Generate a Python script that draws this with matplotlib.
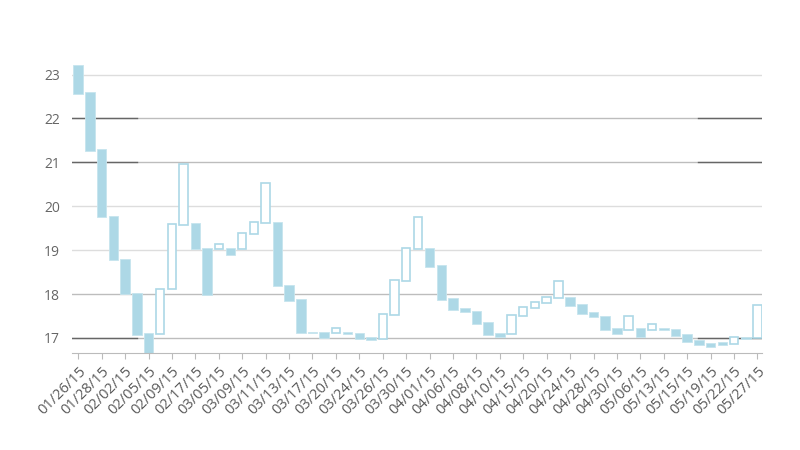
import matplotlib.pyplot as plt
import numpy as np

# open / close values (59 sessions)
open_vals = [23.22, 22.60, 21.30, 19.79, 18.81, 18.03, 17.11, 17.08, 18.11, 19.58,
             19.62, 19.06, 19.03, 19.06, 19.03, 19.38, 19.61, 19.64, 18.21, 17.89,
             17.14, 17.13, 17.11, 17.13, 17.12, 17.02, 16.98, 17.52, 18.29, 19.03,
             19.06, 18.66, 17.91, 17.68, 17.62, 17.37, 17.11, 17.08, 17.50, 17.68,
             17.80, 17.90, 17.94, 17.77, 17.59, 17.51, 17.23, 17.19, 17.22, 17.18,
             17.23, 17.21, 17.10, 16.96, 16.89, 16.90, 16.86, 17.02, 16.99]
close_vals = [22.56, 21.27, 19.75, 18.77, 18.00, 17.07, 16.60, 18.12, 19.60, 20.97,
              19.02, 17.98, 19.13, 18.88, 19.40, 19.64, 20.52, 18.18, 17.85, 17.11,
              17.11, 16.99, 17.22, 17.08, 16.98, 16.95, 17.54, 18.31, 19.04, 19.75,
              18.62, 17.87, 17.63, 17.59, 17.33, 17.07, 17.03, 17.52, 17.70, 17.83,
              17.94, 18.29, 17.72, 17.55, 17.47, 17.18, 17.08, 17.51, 17.02, 17.32,
              17.18, 17.05, 16.92, 16.84, 16.80, 16.84, 17.02, 16.97, 17.76]
tick_labels = ["01/26/15", "01/28/15", "02/02/15", "02/05/15", "02/09/15", "02/17/15",
               "03/05/15", "03/09/15", "03/11/15", "03/13/15", "03/17/15", "03/20/15",
               "03/24/15", "03/26/15", "03/30/15", "04/01/15", "04/06/15", "04/08/15",
               "04/10/15", "04/15/15", "04/20/15", "04/24/15", "04/28/15", "04/30/15",
               "05/06/15", "05/13/15", "05/15/15", "05/19/15", "05/22/15", "05/27/15"]
y_ticks = [17, 18, 19, 20, 21, 22, 23]

plt.rcParams['font.family'] = ['Open Sans', 'DejaVu Sans']
blue = '#add8e6'

fig = plt.figure(figsize=(8, 4.5), dpi=100)
ymin, ymax = 16.665, 23.3
px_per_unit = 43.9
h = (ymax - ymin) * px_per_unit
ax = fig.add_axes([72.3 / 800, (450 - 352.7) / 450, 690 / 800, h / 450])

opens = np.array(open_vals)
closes = np.array(close_vals)
x = np.arange(len(opens))
down = closes < opens
up = ~down

# gridlines: some darker than others, as in the reference
for v in y_ticks:
    c = '#bdbdbd' if v in (17, 18, 21, 22) else '#dddddd'
    ax.axhline(v, color=c, lw=1, zorder=0)
for v in (17, 21, 22):
    ax.plot([-0.5, 5.0], [v, v], color='#666666', lw=1, zorder=0.5)
    ax.plot([52.9, 58.5], [v, v], color='#666666', lw=1, zorder=0.5)

ax.bar(x[down], opens[down] - closes[down], bottom=closes[down], width=0.82,
       color=blue, edgecolor='#c6e5ee', lw=0.6, zorder=2)
ax.bar(x[up], closes[up] - opens[up], bottom=opens[up], width=0.72,
       facecolor='white', edgecolor=blue, lw=1.2, zorder=2)

ax.set_xlim(-0.51, 58.41)
ax.set_ylim(ymin, ymax)
ax.set_yticks(y_ticks)
ax.set_xticks(x[::2])
ax.set_xticklabels(tick_labels, rotation=45, ha='right', va='top',
                   rotation_mode='anchor', fontsize=10.5, color='#595959')
ax.tick_params(axis='y', length=0, pad=9, labelsize=10, labelcolor='#666666')
ax.tick_params(axis='x', length=4, color='#bbbbbb', pad=4)

for s in ('top', 'right', 'left'):
    ax.spines[s].set_visible(False)
ax.spines['bottom'].set_color('#bbbbbb')

fig.savefig('out.png', dpi=100)
